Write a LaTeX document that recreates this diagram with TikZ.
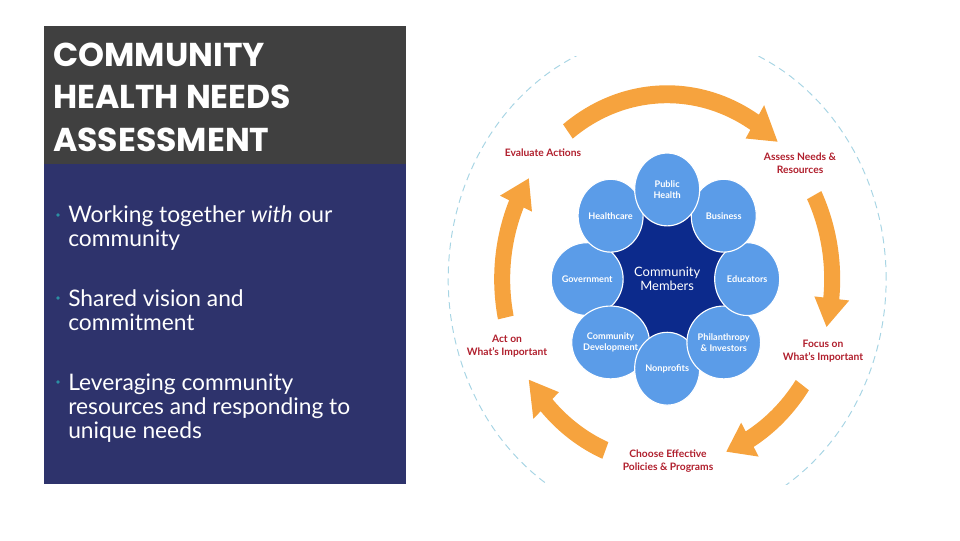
\documentclass[tikz,border=0pt]{standalone}
\usepackage{fontspec}
\setmainfont{Lato}
\newfontfamily\headfont{Poppins}
\usepackage{tikz}
\usetikzlibrary{shapes.geometric}
\definecolor{headgray}{HTML}{404040}
\definecolor{panelblue}{HTML}{2E336C}
\definecolor{dotteal}{HTML}{2B8FA3}
\definecolor{ringblue}{HTML}{5B9CE8}
\definecolor{coreblue}{HTML}{0C2A8C}
\definecolor{steporange}{HTML}{F6A33E}
\definecolor{labelred}{HTML}{B01F2D}
\definecolor{dashblue}{HTML}{A8D5E4}
\tikzset{
  sector/.style={ellipse,fill=ringblue,draw=white,line width=0.8pt,minimum width=1.625cm,minimum height=1.82cm,
    inner sep=0pt,text=white,align=center,font=\bfseries\fontsize{6.5}{7.6}\selectfont},
  core/.style={ellipse,fill=coreblue,minimum width=3.5cm,minimum height=3.9cm,text=white,align=center,
    font=\fontsize{9.2}{10.2}\selectfont},
  steplabel/.style={text=labelred,align=center,font=\bfseries\fontsize{7.3}{9.2}\selectfont},
  bullettext/.style={anchor=base west,align=left,text=white,inner sep=0pt,font=\fontsize{16.2}{17}\selectfont},
}
\begin{document}
\begin{tikzpicture}[x=0.025cm,y=-0.025cm]
  \useasboundingbox (0,0) rectangle (960,540);
  % ---------- left: title and bullet panel ----------
  \fill[headgray] (44,26) rectangle (406,164);
  \fill[panelblue] (44,164) rectangle (406,484);
  % multi-line nodes sit on the baseline of their last line
  \node[anchor=base west,align=left,text=white,inner sep=0pt,font=\headfont\bfseries\fontsize{23.5}{29.9}\selectfont]
    (title) at (53,151) {COMMUNITY\\HEALTH NEEDS\\ASSESSMENT};
  \foreach \y in {215,298,382} \fill[dotteal] (58,\y) circle (1.4pt);
  \node[bullettext] (together) at (68,246) {Working together \emph{with} our\\community};
  \node[bullettext] (vision) at (68,330) {Shared vision and\\commitment};
  \node[bullettext] (leverage) at (68,438) {Leveraging community\\resources and responding to\\unique needs};
  % ---------- right: dashed ring, clipped by the picture frame ----------
  \begin{scope}
    \clip (440,56) rectangle (892,484);
    \begin{scope}[xshift=16.675cm,yshift=-6.975cm,x=0.025cm,y=0.028cm]
      \draw[dashblue,line width=0.7pt,dash pattern=on 5pt off 3.5pt] plot[domain=0:360,samples=150] (\x:219) -- cycle;
    \end{scope}
  \end{scope}
  % ---------- right: cycle arrows and the community ----------
  \begin{scope}[xshift=16.675cm,yshift=-6.975cm,x=0.025cm,y=0.028cm]
    \foreach \from/\base/\tip in {127/58/48,27/-6/-15,-35/-60/-69,-112/-137/-147,192/156/147}
      \fill[steporange] plot[domain=\from:\base,samples=40] (\x:173) -- (\base:183) -- (\tip:165) -- (\base:148)
        -- plot[domain=\base:\from,samples=40] (\x:157) -- cycle;
    \node[core] (members) at (0,0) {Community\\Members};
    \foreach \a/\n/\t in {180/government/Government,-135/commdev/{Community\\Development},-90/nonprofits/Nonprofits,
        -45/philanthropy/{Philanthropy\\\& Investors},0/educators/Educators,45/business/Business,
        135/healthcare/Healthcare,90/pubhealth/{Public\\Health}}
      \node[sector] (\n) at (\a:80) {\t};
  \end{scope}
  % ---------- step labels ----------
  \node[steplabel] (evaluate) at (543,153) {Evaluate Actions};
  \node[steplabel] (assess) at (800,163) {Assess Needs \&\\Resources};
  \node[steplabel] (focus) at (823,351) {Focus on\\What's Important};
  \node[steplabel] (choose) at (668,461) {Choose Effective\\Policies \& Programs};
  \node[steplabel] (act) at (507,346) {Act on\\What's Important};
\end{tikzpicture}
\end{document}
